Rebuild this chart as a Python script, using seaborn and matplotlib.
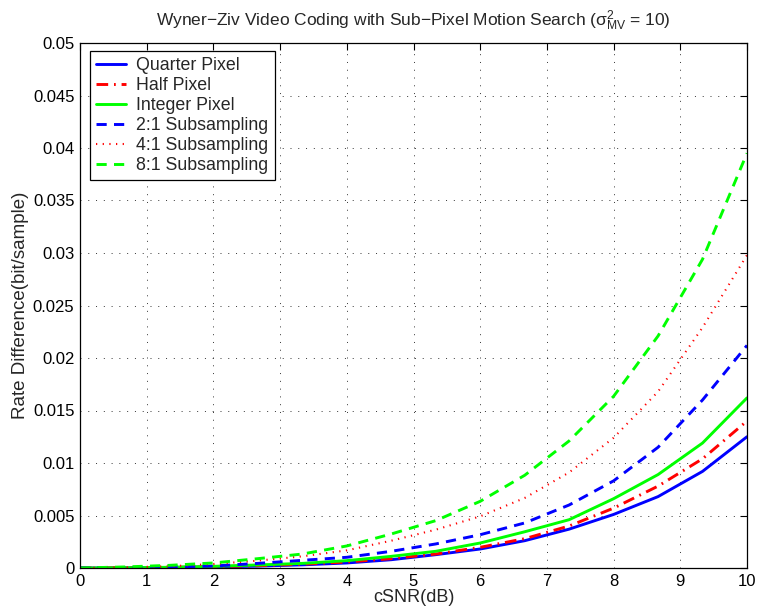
import matplotlib
matplotlib.use("Agg")
import matplotlib.pyplot as plt
import seaborn as sns
import pandas as pd

snr_db = [0, 0.667, 1.333, 2, 2.667, 3.333, 4, 4.667, 5.333, 6, 6.667, 7.333, 8, 8.667, 9.333, 10]

quarter_pixel = [0, 0.00001, 0.00004, 0.0001, 0.00018, 0.0003, 0.00048, 0.00079, 0.00127,
                 0.00181, 0.0026, 0.0037, 0.0051, 0.0068, 0.0092, 0.0125]
half_pixel = [0, 0.00002, 0.00005, 0.00012, 0.00022, 0.00036, 0.00057, 0.00089, 0.00133,
              0.00197, 0.00279, 0.0040, 0.0057, 0.0078, 0.0104, 0.0140]
integer_pixel = [0, 0.00002, 0.00007, 0.00016, 0.00029, 0.00044, 0.0007, 0.00111, 0.00159,
                 0.00238, 0.00345, 0.0046, 0.0066, 0.0089, 0.0119, 0.0162]
sub_2to1 = [0, 0.00003, 0.00008, 0.00019, 0.00044, 0.00073, 0.00102, 0.00159, 0.00229,
            0.00317, 0.00429, 0.0060, 0.0083, 0.0115, 0.0160, 0.0212]
sub_4to1 = [0, 0.00006, 0.00016, 0.00038, 0.0007, 0.00111, 0.00168, 0.0026, 0.00365,
            0.00492, 0.00667, 0.0091, 0.0124, 0.0168, 0.0229, 0.0298]
sub_8to1 = [0, 0.0001, 0.00025, 0.00048, 0.00089, 0.00133, 0.0021, 0.00324, 0.00451,
            0.00635, 0.00883, 0.0121, 0.01635, 0.0221, 0.0294, 0.0395]

series_names = ["Quarter Pixel", "Half Pixel", "Integer Pixel",
                "2:1 Subsampling", "4:1 Subsampling", "8:1 Subsampling"]
series_values = [quarter_pixel, half_pixel, integer_pixel, sub_2to1, sub_4to1, sub_8to1]

x_ticks = [0, 1, 2, 3, 4, 5, 6, 7, 8, 9, 10]
y_ticks = [0, 0.005, 0.01, 0.015, 0.02, 0.025, 0.03, 0.035, 0.04, 0.045, 0.05]
y_tick_labels = ["0", "0.005", "0.01", "0.015", "0.02", "0.025", "0.03", "0.035", "0.04", "0.045", "0.05"]

title = "Wyner\u2212Ziv Video Coding with Sub\u2212Pixel Motion Search ($\\sigma^2_{\\rm MV}$ = 10)"
x_label = "cSNR(dB)"
y_label = "Rate Difference(bit/sample)"

styles = [
    dict(color="#0000ff", linestyle="-", lw=2.1),
    dict(color="#ff0000", linestyle=(0, (4, 2, 0.6, 2)), lw=2.1),
    dict(color="#00ff00", linestyle="-", lw=2.1),
    dict(color="#0000ff", linestyle=(0, (3.5, 2.5)), lw=2.1),
    dict(color="#ff0000", linestyle=(0, (0.6, 2.6)), lw=1.5),
    dict(color="#00ff00", linestyle=(0, (3.5, 2.5)), lw=2.1),
]

sns.set_theme(style="white")
plt.rcParams["font.family"] = ["Liberation Sans", "DejaVu Sans"]
plt.rcParams["mathtext.fontset"] = "custom"
plt.rcParams["mathtext.rm"] = "Liberation Sans"
plt.rcParams["mathtext.it"] = "Liberation Sans"

fig = plt.figure(figsize=(7.59, 6.15), dpi=100)
ax = fig.add_axes([80 / 759, (615 - 568) / 615, 667 / 759, 525 / 615])

for name, vals, st in zip(series_names, series_values, styles):
    df = pd.DataFrame({"snr": snr_db, "rate": vals})
    sns.lineplot(data=df, x="snr", y="rate", ax=ax, label=name,
                 color=st["color"], linestyle=st["linestyle"], linewidth=st["lw"])

ax.set_xlim(0, 10)
ax.set_ylim(0, 0.05)
ax.set_xticks(x_ticks)
ax.set_xticklabels([str(t) for t in x_ticks])
ax.set_yticks(y_ticks)
ax.set_yticklabels(y_tick_labels)
ax.tick_params(direction="in", length=5, width=0.8, top=True, right=True,
               labelsize=12, colors="black", pad=4)
ax.grid(True, linestyle=(0, (1, 7)), color="black", linewidth=0.7, alpha=0.8)
for sp in ax.spines.values():
    sp.set_visible(True)
    sp.set_color("black")
    sp.set_linewidth(0.9)

ax.set_title(title, fontsize=12.5, pad=12)
ax.set_xlabel(x_label, fontsize=13, labelpad=0)
ax.set_ylabel(y_label, fontsize=13.5, labelpad=3)

leg = ax.legend(loc="upper left", bbox_to_anchor=(0.015, 0.985), fontsize=12.8,
                frameon=True, fancybox=False, framealpha=1, edgecolor="black",
                handlelength=1.7, handletextpad=0.55, labelspacing=0.17,
                borderpad=0.35, borderaxespad=0)
leg.get_frame().set_linewidth(0.9)

fig.savefig("out.png", dpi=100)
